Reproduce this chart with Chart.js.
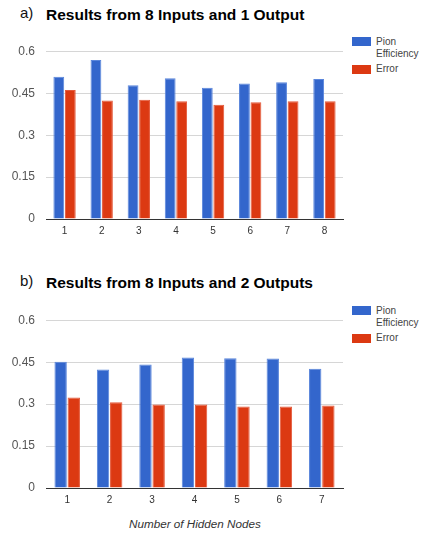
<!DOCTYPE html>
<html>
<head>
<meta charset="utf-8">
<script src="https://cdn.jsdelivr.net/npm/chart.js@4.4.1/dist/chart.umd.min.js"></script>
<style>
  html, body { margin:0; padding:0; background:#fff; width:422px; height:534px; overflow:hidden; }
  body { position:relative; font-family:"Liberation Sans", Arial, sans-serif; }
  .abs { position:absolute; white-space:nowrap; }
  .tag { font-size:15px; color:#111; }
  .title { font-size:15.5px; font-weight:bold; color:#000; }
  .leg-box { position:absolute; width:19px; height:9px; }
  .leg-txt { position:absolute; font-size:10px; color:#444; line-height:12px; }
  .xtitle { font-size:11.7px; font-style:italic; color:#333; }
  canvas { position:absolute; }
</style>
</head>
<body>
<div class="abs tag" style="left:20px; top:4px;">a)</div>
<div class="abs title" style="left:46px; top:6px;">Results from 8 Inputs and 1 Output</div>
<canvas id="chartA" width="345" height="200" style="left:0; top:40px; width:345px; height:200px;"></canvas>
<div class="leg-box" style="left:352px; top:37px; background:#3366cc;"></div>
<div class="leg-txt" style="left:376px; top:36px;">Pion<br>Efficiency</div>
<div class="leg-box" style="left:352px; top:65px; background:#dc3912;"></div>
<div class="leg-txt" style="left:376px; top:63px;">Error</div>

<div class="abs tag" style="left:20px; top:272px;">b)</div>
<div class="abs title" style="left:46px; top:274px;">Results from 8 Inputs and 2 Outputs</div>
<canvas id="chartB" width="345" height="201" style="left:0; top:308px; width:345px; height:201px;"></canvas>
<div class="leg-box" style="left:352px; top:306px; background:#3366cc;"></div>
<div class="leg-txt" style="left:376px; top:305px;">Pion<br>Efficiency</div>
<div class="leg-box" style="left:352px; top:334px; background:#dc3912;"></div>
<div class="leg-txt" style="left:376px; top:332px;">Error</div>

<div class="abs xtitle" style="left:129px; top:517px;">Number of Hidden Nodes</div>

<script>
const categoriesA = ['1','2','3','4','5','6','7','8'];
const pionA  = [0.510, 0.570, 0.480, 0.505, 0.471, 0.486, 0.490, 0.502];
const errorA = [0.463, 0.425, 0.428, 0.422, 0.410, 0.419, 0.422, 0.422];

const categoriesB = ['1','2','3','4','5','6','7'];
const pionB  = [0.452, 0.424, 0.442, 0.467, 0.464, 0.463, 0.427];
const errorB = [0.324, 0.307, 0.299, 0.299, 0.292, 0.292, 0.295];

const yTickValues = [0, 0.15, 0.3, 0.45, 0.6];
const yTickLabels = ['0', '0.15', '0.3', '0.45', '0.6'];
const seriesNames = ['Pion Efficiency', 'Error'];
const seriesColors = ['#3366cc', '#dc3912'];
const seriesEdges = ['#5a86dc', '#e4593a'];

function makeChart(id, cats, pion, err, padTop) {
  return new Chart(document.getElementById(id), {
    type: 'bar',
    data: {
      labels: cats,
      datasets: [
        { label: seriesNames[0], data: pion, backgroundColor: seriesColors[0], borderColor: seriesEdges[0], borderWidth: 1 },
        { label: seriesNames[1], data: err, backgroundColor: seriesColors[1], borderColor: seriesEdges[1], borderWidth: 1 }
      ]
    },
    options: {
      responsive: false,
      animation: false,
      devicePixelRatio: 1,
      layout: { padding: { top: padTop, right: 2, left: 0, bottom: 0 } },
      datasets: { bar: { categoryPercentage: 0.62, barPercentage: 0.94 } },
      plugins: { legend: { display: false }, title: { display: false }, tooltip: { enabled: false } },
      scales: {
        x: {
          grid: { display: false, drawTicks: false },
          border: { display: true, color: '#333', width: 1 },
          ticks: { color: '#333', font: { family: 'Liberation Sans', size: 10 }, padding: 6 },
          afterFit: s => { s.height = 21; s.paddingLeft = 0; s.paddingRight = 0; }
        },
        y: {
          min: 0, max: 0.6,
          afterBuildTicks: s => { s.ticks = yTickValues.map(v => ({ value: v })); },
          grid: { color: ctx => ctx.tick && ctx.tick.value === 0 ? '#333' : '#d6d6d6', drawTicks: false, lineWidth: 1 },
          border: { display: false },
          ticks: {
            color: '#555',
            font: { family: 'Liberation Sans', size: 12 },
            padding: 11,
            callback: v => { const i = yTickValues.findIndex(t => Math.abs(t - v) < 1e-9); return i >= 0 ? yTickLabels[i] : ''; }
          },
          afterFit: s => { s.width = 46; s.paddingTop = 0; s.paddingBottom = 0; }
        }
      }
    }
  });
}
makeChart('chartA', categoriesA, pionA, errorA, 11.7);
makeChart('chartB', categoriesB, pionB, errorB, 12.3);
</script>
</body>
</html>
